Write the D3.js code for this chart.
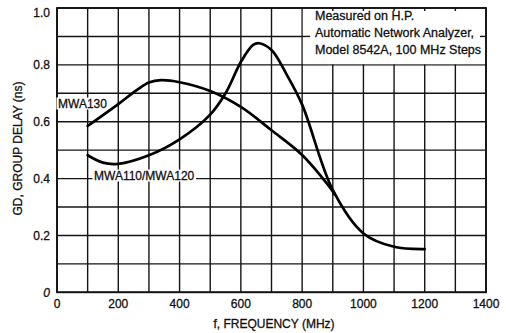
<!DOCTYPE html>
<html><head><meta charset="utf-8">
<script src="https://cdn.jsdelivr.net/npm/d3@7"></script>
<style>
html,body{margin:0;padding:0;background:#fff;}
text{font-family:"Liberation Sans",Arial,sans-serif;fill:#111;stroke:#111;stroke-width:0.3px;}
</style></head>
<body><svg id="c" width="506" height="333"></svg>
<script>
// ---- data ----
const xTicks = [0,200,400,600,800,1000,1200,1400];
const yTicks = [0,0.2,0.4,0.6,0.8,1.0];
const yTickLabels = ["0","0.2","0.4","0.6","0.8","1.0"];
const xGrid = [0,100,200,300,400,500,600,700,800,900,1000,1100,1200,1300,1400];
const yGrid = [0,0.1,0.2,0.3,0.4,0.5,0.6,0.7,0.8,0.9,1.0];
const seriesNames = ["MWA130","MWA110/MWA120"];
const mwa130Freq  = [100,200,260,300,340,400,500,600,700,800,900,905];
const mwa130Delay = [0.585,0.662,0.711,0.738,0.746,0.739,0.708,0.652,0.57,0.483,0.355,0.345];
const mwa110Freq  = [100,150,200,300,400,500,550,600,640,660,700,750,800,900,1000,1100,1200];
const mwa110Delay = [0.482,0.456,0.452,0.482,0.538,0.625,0.70,0.81,0.87,0.876,0.852,0.765,0.66,0.36,0.207,0.16,0.152];
const noteLines = ["Measured on H.P.","Automatic Network Analyzer,","Model 8542A, 100 MHz Steps"];
const xTitle = "f, FREQUENCY (MHz)";
const yTitle = "GD, GROUP DELAY (ns)";

const svg = d3.select("#c");
const L=57, R=486, T=8, B=292.3;
const x = d3.scaleLinear().domain([0,1400]).range([L,R]);
const y = d3.scaleLinear().domain([0,1]).range([B,T]);
const gridColor = "#141414";

// grid
const g = svg.append("g");
g.selectAll(".vg").data(xGrid).join("line")
  .attr("x1",d=>x(d)).attr("x2",d=>x(d)).attr("y1",y(0)).attr("y2",y(1))
  .attr("stroke",gridColor).attr("stroke-width",1.4);
g.selectAll(".hg").data(yGrid).join("line")
  .attr("x1",x(0)).attr("x2",x(1400)).attr("y1",d=>y(d)).attr("y2",d=>y(d))
  .attr("stroke",gridColor).attr("stroke-width",1.4);

// note box (white area covering grid from 800..1400, 0.8..1.0)
g.append("rect").attr("x",x(800)+0.7).attr("y",y(1)+0.7)
  .attr("width",x(1400)-x(800)-1.4).attr("height",y(0.8)-y(1)-1.4).attr("fill","#fff");
g.selectAll(".st").data([900,1000,1100,1200,1300]).join("line")
  .attr("x1",d=>x(d)).attr("x2",d=>x(d)).attr("y1",y(1)).attr("y2",y(1)+3)
  .attr("stroke",gridColor).attr("stroke-width",1.4);
g.append("line").attr("x1",x(800)).attr("x2",x(800)+8).attr("y1",y(0.9)).attr("y2",y(0.9))
  .attr("stroke",gridColor).attr("stroke-width",1.4);
g.append("line").attr("x1",x(1400)-6).attr("x2",x(1400)).attr("y1",y(0.9)).attr("y2",y(0.9))
  .attr("stroke",gridColor).attr("stroke-width",1.4);

svg.append("g").selectAll("text").data(noteLines).join("text")
  .attr("x",315).attr("y",(d,i)=>19.5+i*17.2)
  .attr("font-size","12.5px").text(d=>d);

// border
svg.append("rect").attr("x",L).attr("y",T).attr("width",R-L).attr("height",B-T)
  .attr("fill","none").attr("stroke","#111").attr("stroke-width",1.8);

// series labels with white backgrounds
const labels = [
  {t:seriesNames[0], x:58, y:107.5},
  {t:seriesNames[1], x:94, y:179.5}
];
const lg = svg.append("g");
labels.forEach(l=>{
  const tx = lg.append("text").attr("x",l.x).attr("y",l.y).attr("font-size","12px").text(l.t);
  const bb = tx.node().getBBox();
  lg.insert("rect","text").attr("x",bb.x-1.5).attr("y",bb.y+1).attr("width",bb.width+3).attr("height",bb.height-2).attr("fill","#fff");
});

// curves
const line = d3.line().x(d=>x(d[0])).y(d=>y(d[1])).curve(d3.curveCatmullRom.alpha(0.5));
const s130 = mwa130Freq.map((f,i)=>[f,mwa130Delay[i]]);
const s110 = mwa110Freq.map((f,i)=>[f,mwa110Delay[i]]);
[s130,s110].forEach(s=>{
  svg.append("path").datum(s).attr("d",line).attr("fill","none")
    .attr("stroke","#000").attr("stroke-width",2.7).attr("stroke-linecap","round").attr("stroke-linejoin","round");
});

// tick labels
svg.append("g").selectAll("text").data(xTicks).join("text")
  .attr("x",d=>x(d)).attr("y",308).attr("text-anchor","middle").attr("font-size","12px")
  .text(d=>d);
svg.append("g").selectAll("text").data(yTicks).join("text")
  .attr("x",50).attr("y",(d,i)=>y(d)+(d===1?8.5:4.3)).attr("text-anchor","end").attr("font-size","12px")
  .attr("font-style",d=>d===0?"italic":"normal")
  .text((d,i)=>yTickLabels[i]);

// axis titles
svg.append("text").attr("x",274).attr("y",327.5).attr("text-anchor","middle").attr("font-size","12px").text(xTitle);
svg.append("text").attr("transform","translate(21.5,148.5) rotate(-90)").attr("text-anchor","middle").attr("font-size","12px").text(yTitle);
</script></body></html>
